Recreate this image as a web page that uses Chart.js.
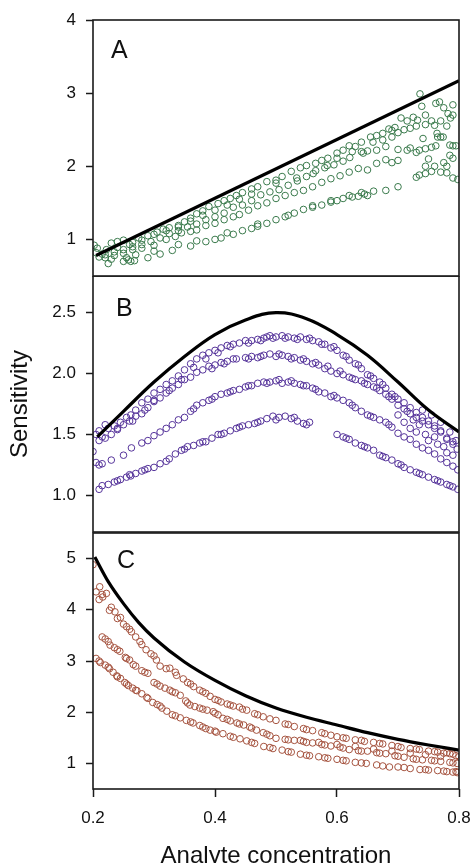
<!DOCTYPE html>
<html>
<head>
<meta charset="utf-8">
<title>Sensitivity vs analyte concentration</title>
<script src="https://cdn.jsdelivr.net/npm/chart.js@4.4.0/dist/chart.umd.min.js"></script>
<style>
  html, body { margin: 0; padding: 0; background: #fff; overflow: hidden; }
  body { width: 471px; height: 863px; position: relative; }
  canvas { position: absolute; left: 0; }
</style>
</head>
<body>
<canvas id="panelA" width="471" height="277" style="top:0px"></canvas>
<canvas id="panelB" width="471" height="257" style="top:276px"></canvas>
<canvas id="panelC" width="471" height="339" style="top:532px"></canvas>
<script>
// axis ticks
const xTicks = [0.2, 0.4, 0.6, 0.8];
const aTicks = [1, 2, 3, 4];
const bTicks = [1.0, 1.5, 2.0, 2.5];
const cTicks = [1, 2, 3, 4, 5];

// ---- panel A: linear response ----
const aModel = [[0.205, 0.78], [0.8, 3.17]];
const aUpper = [
	[0.202, 0.92], [0.207, 0.88], [0.215, 0.80], [0.222, 0.86], [0.23, 0.95], [0.24, 0.97], [0.25, 0.99],
	[0.265, 0.96], [0.275, 1.02], [0.29, 1.05], [0.305, 1.10], [0.315, 1.14], [0.325, 1.16], [0.34, 1.17],
	[0.35, 1.24], [0.36, 1.29], [0.37, 1.35], [0.38, 1.39], [0.39, 1.45], [0.405, 1.49], [0.415, 1.53],
	[0.425, 1.56], [0.435, 1.60], [0.445, 1.64], [0.46, 1.69], [0.47, 1.72], [0.485, 1.79], [0.50, 1.81],
	[0.51, 1.86], [0.525, 1.93], [0.54, 1.98], [0.55, 2.01], [0.565, 2.04], [0.575, 2.08], [0.585, 2.11],
	[0.60, 2.18], [0.61, 2.22], [0.62, 2.28], [0.63, 2.27], [0.64, 2.33], [0.655, 2.40], [0.665, 2.42],
	[0.675, 2.45], [0.685, 2.51], [0.695, 2.53], [0.705, 2.66], [0.715, 2.62], [0.725, 2.67], [0.732, 2.63],
	[0.736, 2.99], [0.739, 2.82], [0.745, 2.57], [0.755, 2.62], [0.762, 2.86], [0.768, 2.88], [0.775, 2.80],
	[0.782, 2.72], [0.786, 2.66], [0.79, 2.84],
	[0.24, 0.89], [0.26, 0.93], [0.28, 0.99], [0.30, 1.07], [0.32, 1.12], [0.34, 1.19], [0.36, 1.25],
	[0.38, 1.33], [0.40, 1.40], [0.42, 1.47], [0.44, 1.55], [0.46, 1.62], [0.50, 1.77], [0.534, 1.84],
	[0.561, 1.90], [0.584, 2.01], [0.60, 2.11], [0.621, 2.12], [0.643, 2.18], [0.659, 2.33], [0.675, 2.36],
	[0.69, 2.49], [0.72, 2.52], [0.741, 2.38], [0.764, 2.45], [0.774, 2.40], [0.785, 2.29]
];
const aMiddle = [
	[0.22, 0.75], [0.235, 0.78], [0.25, 0.81], [0.265, 0.86], [0.28, 0.88], [0.30, 0.92], [0.32, 1.00],
	[0.335, 1.04], [0.345, 1.09], [0.36, 1.11], [0.37, 1.13], [0.385, 1.19], [0.40, 1.22], [0.415, 1.27],
	[0.43, 1.31], [0.44, 1.34], [0.455, 1.40], [0.47, 1.46], [0.485, 1.50], [0.50, 1.56], [0.515, 1.60],
	[0.53, 1.64], [0.545, 1.67], [0.56, 1.72], [0.575, 1.78], [0.59, 1.83], [0.605, 1.87], [0.62, 1.92],
	[0.635, 1.97], [0.65, 1.95], [0.665, 2.04], [0.68, 2.09], [0.69, 2.05], [0.70, 2.23], [0.715, 2.22],
	[0.73, 2.19], [0.745, 2.24], [0.755, 2.26], [0.765, 2.40], [0.775, 2.05], [0.785, 2.15], [0.79, 2.28]
];
const aLower = [
	[0.225, 0.67], [0.25, 0.70], [0.258, 0.72], [0.262, 0.70], [0.268, 0.71], [0.29, 0.75], [0.31, 0.80],
	[0.33, 0.85], [0.36, 0.91], [0.385, 0.97], [0.40, 1.00], [0.41, 1.02], [0.43, 1.07], [0.445, 1.12],
	[0.46, 1.15], [0.47, 1.18], [0.485, 1.22], [0.50, 1.27], [0.515, 1.31], [0.53, 1.36], [0.545, 1.41],
	[0.56, 1.44], [0.575, 1.47], [0.59, 1.51], [0.60, 1.53], [0.61, 1.56], [0.625, 1.58], [0.635, 1.59],
	[0.645, 1.62], [0.65, 1.60], [0.68, 1.67], [0.70, 1.72], [0.73, 1.85], [0.735, 1.88], [0.745, 1.90],
	[0.755, 1.93], [0.76, 2.00], [0.77, 1.92], [0.78, 1.91], [0.79, 1.84], [0.798, 1.82]
];
const aScatter = [
	[0.70, 2.08], [0.72, 2.25], [0.735, 2.22], [0.745, 2.00], [0.75, 2.10], [0.762, 2.28], [0.77, 2.40],
	[0.78, 2.00], [0.79, 2.11], [0.795, 2.28], [0.77, 2.62], [0.78, 2.55], [0.79, 2.70], [0.76, 2.56],
	[0.745, 2.70], [0.73, 2.55], [0.71, 2.50], [0.70, 2.46], [0.69, 2.40], [0.68, 2.27], [0.665, 2.22],
	[0.65, 2.21], [0.64, 2.20], [0.625, 2.20], [0.61, 2.07], [0.595, 2.02], [0.58, 1.98], [0.565, 1.94],
	[0.55, 1.86], [0.535, 1.80], [0.52, 1.74], [0.505, 1.68], [0.49, 1.65], [0.475, 1.61], [0.46, 1.53],
	[0.445, 1.47], [0.43, 1.44], [0.415, 1.36], [0.40, 1.31], [0.385, 1.27], [0.37, 1.21], [0.355, 1.17],
	[0.34, 1.12], [0.325, 1.08], [0.31, 1.02], [0.295, 0.97], [0.28, 0.93], [0.265, 0.90], [0.25, 0.86],
	[0.235, 0.83], [0.22, 0.79], [0.205, 0.82], [0.21, 0.76], [0.23, 0.73], [0.255, 0.75], [0.27, 0.79],
	[0.30, 0.84], [0.34, 0.93], [0.37, 0.98], [0.42, 1.09], [0.47, 1.21], [0.52, 1.33], [0.56, 1.46],
	[0.59, 1.53], [0.62, 1.60], [0.64, 1.64], [0.66, 1.66]
];

// ---- panel B: peaked response ----
const bModel = [
	[0.207, 1.48], [0.25, 1.69], [0.30, 1.93], [0.35, 2.14], [0.40, 2.32], [0.45, 2.44], [0.50, 2.50],
	[0.55, 2.45], [0.60, 2.32], [0.65, 2.15], [0.70, 1.93], [0.75, 1.70], [0.80, 1.52]
];
const bBand1 = [
	[0.205, 1.50], [0.21, 1.53], [0.215, 1.48], [0.225, 1.55], [0.235, 1.57], [0.245, 1.60], [0.255, 1.64],
	[0.262, 1.66], [0.27, 1.70], [0.28, 1.76], [0.29, 1.79], [0.30, 1.84], [0.31, 1.87], [0.32, 1.91],
	[0.33, 1.94], [0.34, 1.98], [0.35, 2.03], [0.36, 2.08], [0.37, 2.12], [0.38, 2.15], [0.39, 2.17],
	[0.40, 2.19], [0.41, 2.21], [0.42, 2.23], [0.43, 2.24], [0.44, 2.25], [0.45, 2.27], [0.46, 2.27],
	[0.47, 2.28], [0.48, 2.29], [0.485, 2.30], [0.49, 2.31], [0.50, 2.30], [0.51, 2.31], [0.52, 2.30],
	[0.53, 2.29], [0.54, 2.30], [0.55, 2.28], [0.56, 2.27], [0.57, 2.26], [0.58, 2.24], [0.59, 2.21],
	[0.60, 2.19], [0.61, 2.15], [0.62, 2.11], [0.63, 2.08], [0.64, 2.04], [0.65, 1.99], [0.66, 1.96],
	[0.67, 1.93], [0.68, 1.88], [0.69, 1.83], [0.70, 1.79], [0.71, 1.76], [0.72, 1.72], [0.73, 1.68],
	[0.74, 1.64], [0.75, 1.61], [0.76, 1.57], [0.77, 1.53], [0.78, 1.47], [0.79, 1.42], [0.797, 1.38]
];
const bBand2 = [
	[0.21, 1.45], [0.22, 1.47], [0.23, 1.50], [0.24, 1.54], [0.25, 1.58], [0.26, 1.61], [0.27, 1.65],
	[0.28, 1.67], [0.29, 1.72], [0.30, 1.77], [0.31, 1.80], [0.32, 1.84], [0.33, 1.88], [0.34, 1.91],
	[0.35, 1.95], [0.36, 1.97], [0.37, 2.01], [0.38, 2.03], [0.39, 2.06], [0.40, 2.07], [0.41, 2.09],
	[0.42, 2.10], [0.43, 2.12], [0.45, 2.13], [0.46, 2.14], [0.47, 2.13], [0.48, 2.15], [0.49, 2.16],
	[0.50, 2.14], [0.51, 2.15], [0.52, 2.14], [0.53, 2.13], [0.54, 2.11], [0.55, 2.10], [0.56, 2.08],
	[0.57, 2.07], [0.58, 2.04], [0.59, 2.02], [0.60, 2.00], [0.61, 1.99], [0.62, 1.97], [0.63, 1.95],
	[0.64, 1.94], [0.65, 1.91], [0.66, 1.89], [0.67, 1.86], [0.68, 1.83], [0.69, 1.79], [0.70, 1.74],
	[0.71, 1.71], [0.72, 1.67], [0.73, 1.64], [0.74, 1.61], [0.75, 1.58], [0.76, 1.55], [0.77, 1.52],
	[0.78, 1.46], [0.79, 1.44]
];
const bBand3 = [
	[0.20, 1.36], [0.205, 1.27], [0.21, 1.25], [0.215, 1.26], [0.23, 1.29], [0.25, 1.33], [0.263, 1.39],
	[0.28, 1.43], [0.29, 1.45], [0.30, 1.49], [0.31, 1.52], [0.32, 1.55], [0.33, 1.58], [0.34, 1.62],
	[0.35, 1.64], [0.36, 1.69], [0.37, 1.74], [0.38, 1.76], [0.39, 1.78], [0.40, 1.81], [0.41, 1.83],
	[0.42, 1.84], [0.43, 1.86], [0.44, 1.87], [0.45, 1.89], [0.46, 1.90], [0.47, 1.92], [0.48, 1.93],
	[0.49, 1.93], [0.50, 1.94], [0.51, 1.92], [0.52, 1.93], [0.53, 1.92], [0.54, 1.91], [0.55, 1.90],
	[0.56, 1.88], [0.57, 1.85], [0.58, 1.84], [0.59, 1.81], [0.60, 1.80], [0.61, 1.78], [0.62, 1.76],
	[0.63, 1.72], [0.64, 1.69], [0.65, 1.66], [0.66, 1.64], [0.67, 1.62], [0.68, 1.60], [0.69, 1.56],
	[0.70, 1.51], [0.71, 1.48], [0.72, 1.46], [0.73, 1.42], [0.74, 1.39], [0.75, 1.37], [0.76, 1.34],
	[0.77, 1.30], [0.78, 1.27], [0.79, 1.24], [0.798, 1.21]
];
const bBand4 = [
	[0.21, 1.05], [0.215, 1.08], [0.225, 1.09], [0.235, 1.11], [0.245, 1.13], [0.255, 1.15], [0.262, 1.16],
	[0.27, 1.18], [0.28, 1.20], [0.29, 1.22], [0.30, 1.23], [0.31, 1.26], [0.325, 1.30], [0.335, 1.34],
	[0.345, 1.37], [0.355, 1.40], [0.365, 1.41], [0.375, 1.43], [0.385, 1.44], [0.395, 1.47], [0.405, 1.50],
	[0.415, 1.51], [0.425, 1.53], [0.435, 1.55], [0.445, 1.57], [0.455, 1.58], [0.465, 1.59], [0.475, 1.61],
	[0.485, 1.63], [0.495, 1.65], [0.505, 1.64], [0.515, 1.65], [0.525, 1.63], [0.535, 1.61], [0.545, 1.59],
	[0.555, 1.60],
	[0.60, 1.50], [0.61, 1.48], [0.62, 1.46], [0.63, 1.43], [0.64, 1.41], [0.65, 1.39], [0.66, 1.37],
	[0.67, 1.33], [0.68, 1.31], [0.69, 1.29], [0.70, 1.26], [0.71, 1.23], [0.72, 1.21], [0.73, 1.19],
	[0.74, 1.17], [0.75, 1.15], [0.76, 1.13], [0.77, 1.11], [0.78, 1.09], [0.79, 1.07], [0.798, 1.05]
];
const bScatter = [
	[0.70, 1.66], [0.71, 1.60], [0.72, 1.55], [0.73, 1.52], [0.735, 1.58], [0.745, 1.50], [0.75, 1.45],
	[0.76, 1.48], [0.765, 1.42], [0.775, 1.40], [0.78, 1.35], [0.79, 1.33], [0.795, 1.45], [0.785, 1.52],
	[0.77, 1.60], [0.755, 1.66], [0.74, 1.70], [0.725, 1.62], [0.715, 1.69],
	[0.22, 1.58], [0.24, 1.55], [0.265, 1.61], [0.285, 1.70], [0.30, 1.78], [0.325, 1.86], [0.345, 1.95],
	[0.365, 2.05], [0.385, 2.12], [0.405, 2.17], [0.425, 2.22], [0.455, 2.25], [0.475, 2.27], [0.495, 2.29],
	[0.515, 2.29], [0.535, 2.28], [0.555, 2.29], [0.575, 2.24], [0.595, 2.22], [0.615, 2.14], [0.635, 2.07],
	[0.655, 1.98], [0.675, 1.91], [0.695, 1.81],
	[0.395, 2.04], [0.415, 2.08], [0.435, 2.12], [0.455, 2.12], [0.475, 2.14], [0.505, 2.16], [0.525, 2.12],
	[0.545, 2.12], [0.565, 2.09], [0.585, 2.06], [0.605, 2.02], [0.625, 1.96], [0.645, 1.92], [0.665, 1.88],
	[0.685, 1.81],
	[0.365, 1.71], [0.395, 1.79], [0.425, 1.85], [0.455, 1.90], [0.485, 1.92], [0.505, 1.95], [0.525, 1.94],
	[0.545, 1.90], [0.565, 1.87], [0.595, 1.82], [0.625, 1.74], [0.655, 1.65], [0.685, 1.58],
	[0.24, 1.12], [0.26, 1.17], [0.285, 1.21], [0.32, 1.28], [0.35, 1.38], [0.38, 1.44], [0.41, 1.50],
	[0.44, 1.56], [0.47, 1.60], [0.50, 1.62], [0.53, 1.64], [0.55, 1.58], [0.615, 1.47], [0.645, 1.40],
	[0.675, 1.32], [0.705, 1.25], [0.735, 1.18], [0.765, 1.12], [0.785, 1.08]
];

// ---- panel C: decaying response ----
const cModel = [
	[0.203, 5.03], [0.225, 4.55], [0.25, 4.12], [0.275, 3.75], [0.30, 3.45], [0.35, 2.98], [0.40, 2.62],
	[0.45, 2.32], [0.50, 2.08], [0.55, 1.90], [0.60, 1.75], [0.65, 1.60], [0.70, 1.47], [0.75, 1.36],
	[0.80, 1.26]
];
const cBand1 = [
	[0.20, 4.88], [0.211, 4.45], [0.216, 4.25], [0.222, 4.32], [0.227, 3.99], [0.236, 3.96], [0.24, 3.83],
	[0.25, 3.72], [0.255, 3.67], [0.263, 3.57], [0.27, 3.47], [0.277, 3.38], [0.287, 3.22], [0.295, 3.14],
	[0.304, 3.02], [0.31, 2.90], [0.32, 2.85], [0.326, 2.86], [0.337, 2.72], [0.348, 2.65], [0.355, 2.58],
	[0.365, 2.50], [0.375, 2.43], [0.385, 2.37], [0.392, 2.31], [0.40, 2.25], [0.41, 2.20], [0.42, 2.16],
	[0.43, 2.12], [0.44, 2.10], [0.452, 2.04], [0.465, 1.97], [0.479, 1.91], [0.49, 1.87], [0.50, 1.84],
	[0.515, 1.77], [0.53, 1.72], [0.545, 1.68], [0.56, 1.64], [0.575, 1.60], [0.59, 1.55], [0.60, 1.52],
	[0.615, 1.49], [0.63, 1.46], [0.645, 1.43], [0.66, 1.41], [0.675, 1.38], [0.69, 1.35], [0.705, 1.31],
	[0.72, 1.29], [0.735, 1.27], [0.75, 1.24], [0.765, 1.22], [0.775, 1.20], [0.785, 1.19], [0.795, 1.15]
];
const cBand2 = [
	[0.215, 3.47], [0.22, 3.43], [0.228, 3.31], [0.235, 3.26], [0.244, 3.19], [0.253, 3.07], [0.26, 3.02],
	[0.266, 2.93], [0.28, 2.81], [0.29, 2.76], [0.30, 2.58], [0.31, 2.51], [0.318, 2.47], [0.326, 2.43],
	[0.335, 2.38], [0.343, 2.33], [0.352, 2.22], [0.359, 2.14], [0.367, 2.11], [0.375, 2.08], [0.387, 2.04],
	[0.397, 2.01], [0.405, 1.95], [0.413, 1.88], [0.425, 1.83], [0.436, 1.79], [0.447, 1.75], [0.457, 1.71],
	[0.468, 1.65], [0.479, 1.60], [0.49, 1.54], [0.50, 1.49], [0.515, 1.47], [0.53, 1.45], [0.545, 1.43],
	[0.56, 1.40], [0.575, 1.37], [0.59, 1.34], [0.605, 1.32], [0.62, 1.27], [0.635, 1.25], [0.65, 1.24],
	[0.665, 1.21], [0.68, 1.19], [0.695, 1.15], [0.71, 1.12], [0.725, 1.09], [0.74, 1.07], [0.755, 1.06],
	[0.77, 1.04], [0.785, 1.02], [0.797, 1.00]
];
const cBand3 = [
	[0.205, 3.05], [0.212, 2.97], [0.22, 2.92], [0.227, 2.85], [0.233, 2.78], [0.239, 2.71], [0.245, 2.66],
	[0.252, 2.58], [0.258, 2.52], [0.265, 2.47], [0.272, 2.42], [0.28, 2.36], [0.288, 2.29], [0.298, 2.19],
	[0.305, 2.15], [0.313, 2.08], [0.321, 2.02], [0.33, 1.95], [0.343, 1.89], [0.353, 1.84], [0.364, 1.79],
	[0.375, 1.74], [0.385, 1.68], [0.392, 1.65], [0.402, 1.61], [0.413, 1.58], [0.425, 1.53], [0.441, 1.48],
	[0.452, 1.44], [0.465, 1.39], [0.48, 1.33], [0.495, 1.29], [0.51, 1.26], [0.525, 1.22], [0.54, 1.18],
	[0.555, 1.15], [0.57, 1.13], [0.585, 1.10], [0.60, 1.08], [0.615, 1.05], [0.63, 1.02], [0.648, 1.00],
	[0.665, 0.97], [0.686, 0.93], [0.70, 0.93], [0.72, 0.90], [0.736, 0.88], [0.75, 0.87], [0.765, 0.86],
	[0.78, 0.84], [0.79, 0.83], [0.797, 0.82]
];
const cScatter = [
	[0.205, 4.35], [0.21, 4.20], [0.215, 4.30], [0.23, 4.05], [0.245, 3.85], [0.26, 3.62], [0.28, 3.32],
	[0.30, 3.10], [0.335, 2.78], [0.36, 2.55], [0.38, 2.40], [0.405, 2.23], [0.425, 2.14], [0.445, 2.06],
	[0.47, 1.95], [0.52, 1.76], [0.55, 1.66], [0.58, 1.58], [0.61, 1.50], [0.64, 1.45], [0.67, 1.39],
	[0.70, 1.33], [0.73, 1.28], [0.76, 1.23], [0.78, 1.21], [0.79, 1.18], [0.80, 1.13], [0.77, 1.14],
	[0.745, 1.17], [0.72, 1.20], [0.69, 1.24], [0.66, 1.28], [0.63, 1.33], [0.60, 1.37], [0.57, 1.41],
	[0.54, 1.45],
	[0.225, 3.38], [0.24, 3.22], [0.255, 3.05], [0.27, 2.90], [0.285, 2.78], [0.305, 2.55], [0.33, 2.40],
	[0.355, 2.18], [0.38, 2.06], [0.40, 1.98], [0.42, 1.86], [0.44, 1.77], [0.46, 1.69], [0.485, 1.57],
	[0.52, 1.46], [0.55, 1.41], [0.58, 1.36], [0.61, 1.30], [0.64, 1.24], [0.67, 1.20], [0.70, 1.14],
	[0.73, 1.08], [0.76, 1.05], [0.79, 1.01],
	[0.21, 3.00], [0.225, 2.88], [0.24, 2.69], [0.255, 2.55], [0.27, 2.43], [0.29, 2.27], [0.31, 2.12],
	[0.335, 1.93], [0.36, 1.81], [0.38, 1.71], [0.40, 1.63], [0.43, 1.51], [0.46, 1.41], [0.49, 1.31],
	[0.52, 1.23], [0.55, 1.16], [0.58, 1.11], [0.61, 1.06], [0.64, 1.01], [0.675, 0.95], [0.71, 0.92],
	[0.745, 0.88], [0.775, 0.85], [0.795, 0.84]
];

const FONT = '"Liberation Sans", Arial, Helvetica, sans-serif';
const INK = '#1a1a1a';

const toPts = arr => arr.map(([x, y]) => ({ x, y }));

// box around the plot area plus the panel letter
const panelFrame = {
	id: 'panelFrame',
	afterDatasetsDraw(chart, args, opts) {
		const { ctx, chartArea: a } = chart;
		ctx.save();
		ctx.strokeStyle = INK;
		ctx.lineWidth = 1.6;
		ctx.strokeRect(a.left, a.top, a.right - a.left, a.bottom - a.top);
		ctx.fillStyle = '#111';
		ctx.font = '25px ' + FONT;
		ctx.textBaseline = 'alphabetic';
		ctx.fillText(opts.letter, a.left + opts.dx, a.top + opts.dy);
		ctx.restore();
	}
};

function pointSet(data, color) {
	return {
		data: toPts(data),
		showLine: false,
		pointStyle: 'circle',
		pointRadius: 3.3,
		pointBorderWidth: 1,
		pointBorderColor: color,
		pointBackgroundColor: 'rgba(0,0,0,0)',
		order: 2
	};
}

function modelLine(data, smooth) {
	return {
		data: toPts(data),
		showLine: true,
		borderColor: '#000',
		borderWidth: 3.2,
		pointRadius: 0,
		tension: smooth === 'bezier' ? 0.4 : 0,
		cubicInterpolationMode: smooth === 'monotone' ? 'monotone' : 'default',
		order: 1
	};
}

function makePanel(id, cfg) {
	const ctx = document.getElementById(id).getContext('2d');
	const showX = !!cfg.showX;
	return new Chart(ctx, {
		type: 'scatter',
		data: { datasets: [...cfg.bands.map(b => pointSet(b, cfg.color)), modelLine(cfg.model, cfg.smooth)] },
		plugins: [panelFrame],
		options: {
			responsive: false,
			animation: false,
			events: [],
			layout: { autoPadding: false, padding: cfg.padding },
			plugins: {
				legend: { display: false },
				tooltip: { enabled: false },
				panelFrame: cfg.letter
			},
			scales: {
				x: {
					type: 'linear',
					min: 0.2,
					max: 0.8,
					display: showX,
					afterBuildTicks: s => { s.ticks = xTicks.map(v => ({ value: v })); },
					afterFit: s => {
						if (showX) s.height = 82;
						s.paddingLeft = 0;
						s.paddingRight = 0;
					},
					ticks: {
						padding: 11,
						color: '#111',
						font: { family: FONT, size: 17 },
						callback: v => v.toFixed(1)
					},
					grid: { drawOnChartArea: false, tickLength: 8, tickColor: INK, tickWidth: 1.5 },
					border: { display: false },
					title: {
						display: showX,
						text: 'Analyte concentration',
						color: '#111',
						font: { family: FONT, size: 24 },
						padding: { top: 4, bottom: 0 }
					}
				},
				y: {
					type: 'linear',
					min: cfg.yMin,
					max: cfg.yMax,
					afterBuildTicks: s => { s.ticks = cfg.yTicks.map(v => ({ value: v })); },
					afterFit: s => {
						s.width = 93;
						s.paddingTop = 0;
						s.paddingBottom = 0;
					},
					ticks: {
						padding: 10,
						color: '#111',
						font: { family: FONT, size: 17 },
						callback: cfg.fmt
					},
					grid: { drawOnChartArea: false, tickLength: 7, tickColor: INK, tickWidth: 1.5 },
					border: { display: false },
					title: {
						display: !!cfg.yTitle,
						text: cfg.yTitle || '',
						color: '#111',
						font: { family: FONT, size: 24 },
						padding: { top: 6, bottom: 0 }
					}
				}
			}
		}
	});
}

makePanel('panelA', {
	bands: [aUpper, aMiddle, aLower, aScatter],
	model: aModel,
	smooth: 'none',
	color: '#3a7a4c',
	yMin: 0.5, yMax: 4,
	yTicks: aTicks,
	fmt: v => String(v),
	padding: { top: 20, right: 12, bottom: 1, left: 0 },
	letter: { letter: 'A', dx: 18, dy: 38 }
});

makePanel('panelB', {
	bands: [bBand1, bBand2, bBand3, bBand4, bScatter],
	model: bModel,
	smooth: 'bezier',
	color: '#55339a',
	yMin: 0.7, yMax: 2.8,
	yTicks: bTicks,
	fmt: v => v.toFixed(1),
	yTitle: 'Sensitivity',
	padding: { top: 0, right: 12, bottom: 1, left: 0 },
	letter: { letter: 'B', dx: 23, dy: 40 }
});

makePanel('panelC', {
	bands: [cBand1, cBand2, cBand3, cScatter],
	model: cModel,
	smooth: 'monotone',
	color: '#a5533f',
	yMin: 0.5, yMax: 5.5,
	yTicks: cTicks,
	fmt: v => String(v),
	showX: true,
	padding: { top: 1, right: 12, bottom: 0, left: 0 },
	letter: { letter: 'C', dx: 24, dy: 35 }
});
</script>
</body>
</html>
